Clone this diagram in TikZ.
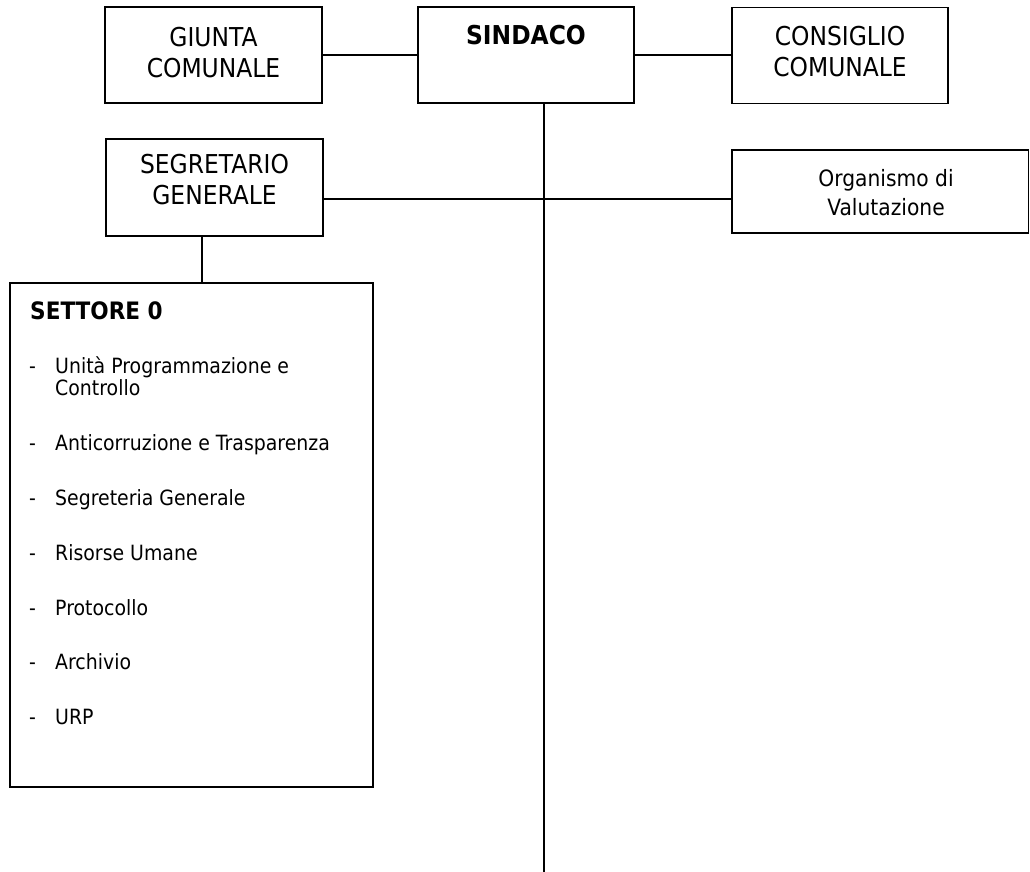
\documentclass[tikz,border=0pt]{standalone}
\usepackage{fontspec}
\setmainfont{DejaVu Sans}[FakeStretch=0.9]
\begin{document}
\begin{tikzpicture}[x=1pt,y=-1pt,
  box/.style={draw=black, line width=1.8pt, inner sep=0pt, outer sep=0pt, fill=white},
  conn/.style={draw=black, line width=1.5pt},
  hdr/.style={align=center, inner sep=0pt, font=\fontsize{26}{31}\selectfont},
  hdrb/.style={inner sep=0pt, font=\fontsize{26}{31}\selectfont\bfseries},
  orgtxt/.style={align=center, inner sep=0pt, font=\fontsize{22.5}{29}\selectfont},
  ttl/.style={anchor=base west, inner sep=0pt, font=\fontsize{24}{28}\selectfont\bfseries},
  item/.style={anchor=base west, inner sep=0pt, align=left, font=\fontsize{21}{22}\selectfont}
]
\useasboundingbox (0,0) rectangle (1030,872);

% boxes
\node[box, minimum width=217pt, minimum height=96pt] (giunta) at (213.5,55) {};
\node[box, minimum width=216pt, minimum height=96pt] (sindaco) at (526,55) {};
\node[box, minimum width=216pt, minimum height=96pt] (consiglio) at (840,55.5) {};
\node[box, minimum width=217pt, minimum height=97pt] (segr) at (214.5,187.5) {};
\node[box, minimum width=296.5pt, minimum height=83pt] (org) at (880.25,191.5) {};
\node[box, minimum width=363pt, minimum height=504pt] (settore) at (191.5,535) {};

% coordinates for connectors
\coordinate (sindX) at (544,0);
\coordinate (endBottom) at (544,872);
\coordinate (lineY) at (0,199);
\coordinate (segX) at (202,0);

% connectors
\draw[conn] (giunta.east) -- (sindaco.west);
\draw[conn] (sindaco.east) -- (sindaco.east -| consiglio.west);
\draw[conn] (sindX |- sindaco.south) -- (endBottom);
\draw[conn] (segr.east |- lineY) -- (org.west |- lineY);
\draw[conn] (segX |- segr.south) -- (segX |- settore.north);

% texts
\node[hdr] (giuntaT) at (213.5,52.5) {GIUNTA\\COMUNALE};
\node[hdrb, anchor=base] (sindacoT) at (526,44.5) {SINDACO};
\node[hdr] (consiglioT) at (840,51.5) {CONSIGLIO\\COMUNALE};
\node[hdr] (segrT) at (214.5,179.5) {SEGRETARIO\\GENERALE};
\node[orgtxt] (orgT) at (886,192.5) {Organismo di\\Valutazione};

\node[ttl] (settoreT) at (30,319.5) {SETTORE 0};
\node[item] (i1) at (29,395.5) {\makebox[26pt][l]{-}Unità Programmazione e\\\hspace*{26pt}Controllo};
\node[item] (i2) at (29,450.5) {\makebox[26pt][l]{-}Anticorruzione e Trasparenza};
\node[item] (i3) at (29,505.5) {\makebox[26pt][l]{-}Segreteria Generale};
\node[item] (i4) at (29,560.5) {\makebox[26pt][l]{-}Risorse Umane};
\node[item] (i5) at (29,615.5) {\makebox[26pt][l]{-}Protocollo};
\node[item] (i6) at (29,669.5) {\makebox[26pt][l]{-}Archivio};
\node[item] (i7) at (29,724.5) {\makebox[26pt][l]{-}URP};
\end{tikzpicture}
\end{document}
